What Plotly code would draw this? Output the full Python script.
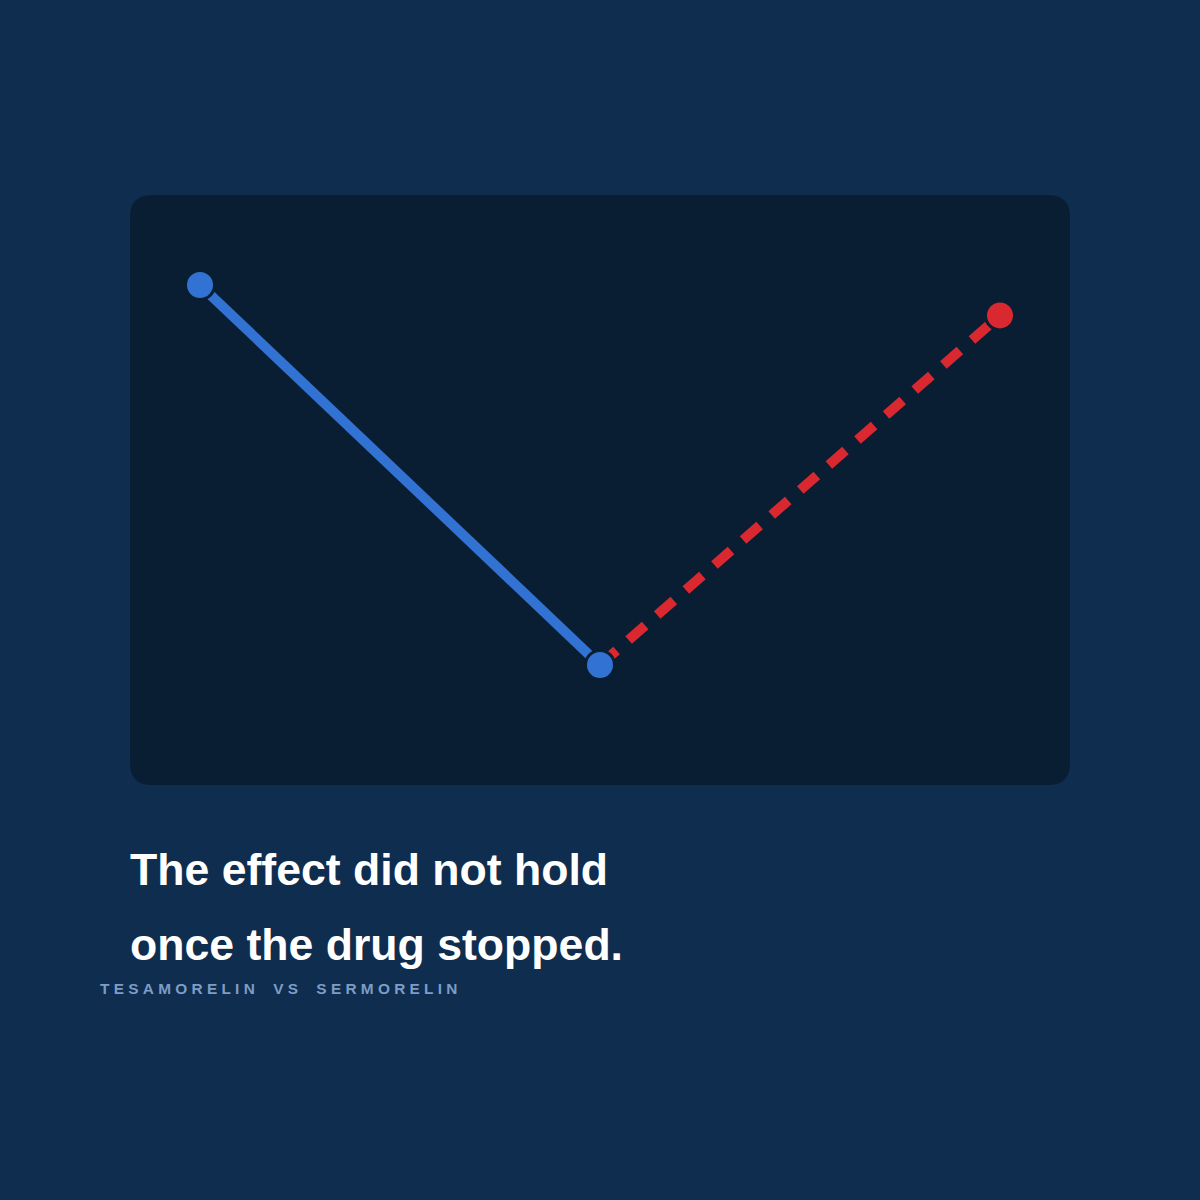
import plotly.graph_objects as go

# phases along the x axis and the response values
phase_on = [0, 1]          # on drug -> trough
effect_on = [100, 0]
phase_off = [1, 2]         # after stopping
effect_off = [0, 92]

title_lines = ["The effect did not hold", "once the drug stopped."]
subtitle_words = ["TESAMORELIN", "VS", "SERMORELIN"]

BG = "#0f2d4e"
PANEL = "#0a1e33"
BLUE = "#3172d3"
RED = "#d9282f"
SUB = "#7d9cc6"

W = H = 1200
FONT = "Liberation Sans, Arial, sans-serif"


def px(x, y):
    # pixel -> paper coords
    return x / W, 1 - y / H


def rounded_rect(x0, y0, x1, y1, r):
    pts = []
    a = px(x0 + r, y0); pts.append(f"M{a[0]},{a[1]}")
    a = px(x1 - r, y0); pts.append(f"L{a[0]},{a[1]}")
    c = px(x1, y0); e = px(x1, y0 + r); pts.append(f"Q{c[0]},{c[1]} {e[0]},{e[1]}")
    a = px(x1, y1 - r); pts.append(f"L{a[0]},{a[1]}")
    c = px(x1, y1); e = px(x1 - r, y1); pts.append(f"Q{c[0]},{c[1]} {e[0]},{e[1]}")
    a = px(x0 + r, y1); pts.append(f"L{a[0]},{a[1]}")
    c = px(x0, y1); e = px(x0, y1 - r); pts.append(f"Q{c[0]},{c[1]} {e[0]},{e[1]}")
    a = px(x0, y0 + r); pts.append(f"L{a[0]},{a[1]}")
    c = px(x0, y0); e = px(x0 + r, y0); pts.append(f"Q{c[0]},{c[1]} {e[0]},{e[1]}")
    pts.append("Z")
    return " ".join(pts)


fig = go.Figure()

fig.add_trace(go.Scatter(
    x=phase_off, y=effect_off, mode="lines+markers",
    line=dict(color=RED, width=10, dash="22px,16px"),
    marker=dict(color=RED, size=[0, 29], opacity=1,
                line=dict(color=PANEL, width=[0, 3])),
    hoverinfo="skip", showlegend=False,
))
fig.add_trace(go.Scatter(
    x=phase_on, y=effect_on, mode="lines+markers",
    line=dict(color=BLUE, width=10),
    marker=dict(color=BLUE, size=29, opacity=1, line=dict(color=PANEL, width=3)),
    hoverinfo="skip", showlegend=False,
))

fig.add_shape(type="path", xref="paper", yref="paper",
              path=rounded_rect(130, 195, 1070, 785, 22),
              fillcolor=PANEL, line=dict(width=0), layer="below")

for line, top in zip(title_lines, [843, 918]):
    fig.add_annotation(text=line, xref="paper", yref="paper",
                       x=px(128, 0)[0], y=px(0, top)[1], xanchor="left", yanchor="top",
                       align="left", showarrow=False,
                       font=dict(family=FONT, size=44.6, color="white", weight=700))

gap = "\u00a0" * 4 + "\u200a"
sub = gap.join("\u00a0".join(w) for w in subtitle_words)
fig.add_annotation(text=sub, xref="paper", yref="paper",
                   x=px(98, 0)[0], y=px(0, 988)[1], xanchor="left", yanchor="middle",
                   showarrow=False,
                   font=dict(family=FONT, size=15.4, color=SUB, weight=700))

# x: value 0 -> 200px, 1 -> 600px; y: 100 -> 285px, 0 -> 665px
fig.update_xaxes(range=[-0.5, 2.5], visible=False, fixedrange=True)
fig.update_yaxes(range=[-535 / 3.8, 100 + 285 / 3.8], visible=False, fixedrange=True)
fig.update_layout(width=W, height=H, margin=dict(l=0, r=0, t=0, b=0),
                  paper_bgcolor=BG, plot_bgcolor="rgba(0,0,0,0)")

fig.write_html("out.html", config={"displayModeBar": False})

# drop the default page margin so the figure sits at 0,0
with open("out.html", encoding="utf-8") as f:
    html = f.read()
html = html.replace("<body>", '<body style="margin:0;overflow:hidden;background:%s">' % BG, 1)
with open("out.html", "w", encoding="utf-8") as f:
    f.write(html)
